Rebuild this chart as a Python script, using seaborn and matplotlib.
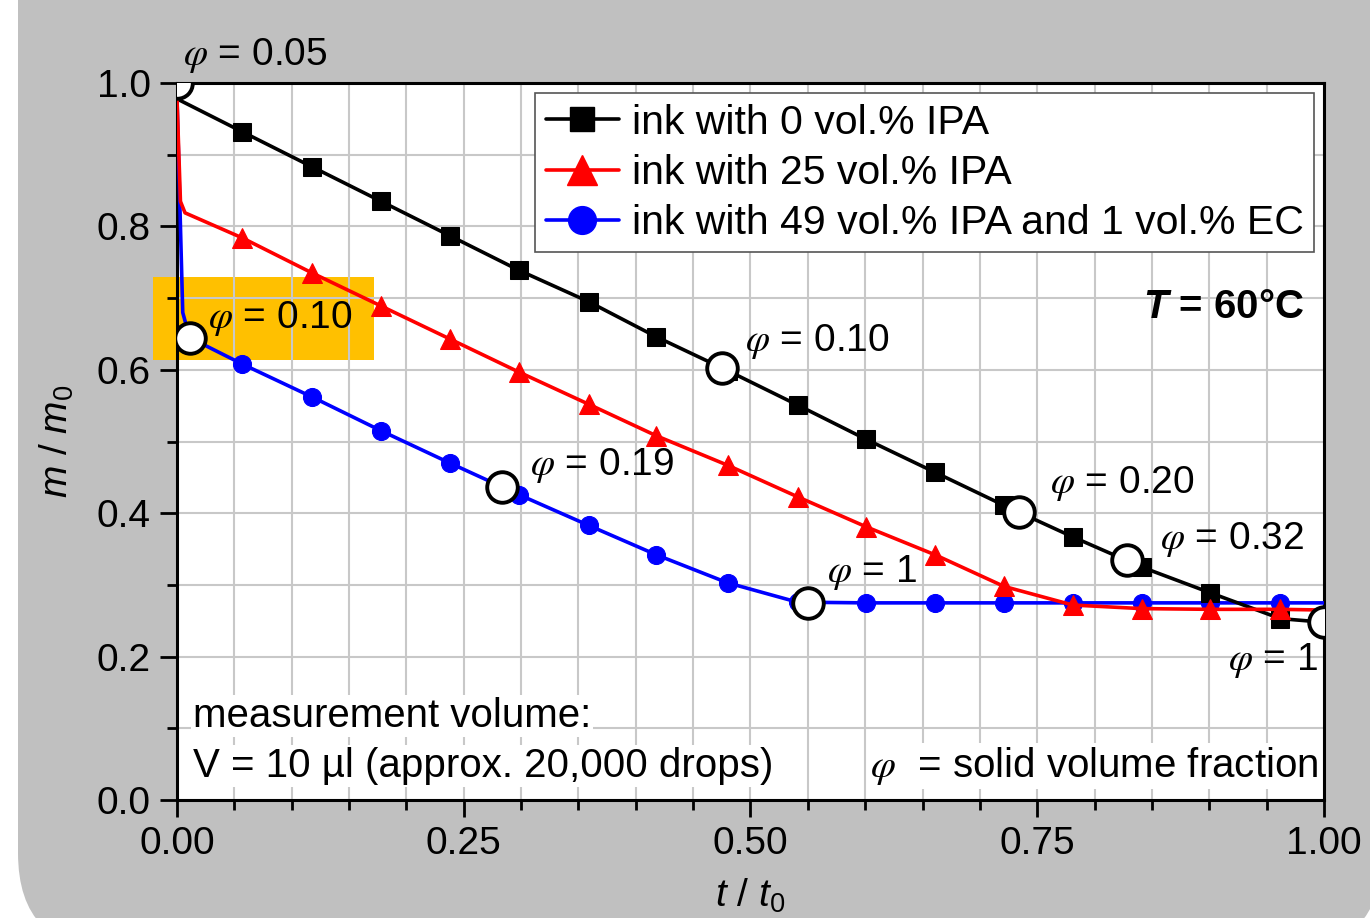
import numpy as np
import pandas as pd
import matplotlib
matplotlib.use('Agg')
import matplotlib.pyplot as plt
import seaborn as sns
from matplotlib.lines import Line2D
from matplotlib.patches import FancyBboxPatch, Rectangle
from matplotlib.ticker import MultipleLocator
from matplotlib.transforms import IdentityTransform

# Data (t/t0, m/m0)
t_black = [0.0, 0.057, 0.118, 0.178, 0.238, 0.298, 0.359, 0.418, 0.480, 0.541,
           0.601, 0.661, 0.721, 0.781, 0.841, 0.901, 0.962, 1.0]
m_black = [0.978, 0.932, 0.883, 0.835, 0.787, 0.739, 0.695, 0.646, 0.599, 0.551,
           0.503, 0.457, 0.411, 0.367, 0.325, 0.289, 0.253, 0.248]

t_red = [0.0, 0.003, 0.007, 0.057, 0.118, 0.178, 0.238, 0.298, 0.359, 0.418, 0.480,
         0.541, 0.601, 0.661, 0.721, 0.781, 0.841, 0.901, 0.962, 1.0]
m_red = [0.978, 0.835, 0.819, 0.784, 0.735, 0.689, 0.643, 0.597, 0.552, 0.508, 0.467,
         0.423, 0.381, 0.342, 0.298, 0.272, 0.267, 0.266, 0.266, 0.265]

t_blue = [0.0, 0.003, 0.005, 0.011, 0.057, 0.118, 0.178, 0.238, 0.298, 0.359, 0.418,
          0.480, 0.541, 0.601, 0.661, 0.721, 0.781, 0.841, 0.901, 0.962, 1.0]
m_blue = [0.978, 0.80, 0.68, 0.645, 0.608, 0.562, 0.515, 0.470, 0.426, 0.383, 0.342,
          0.303, 0.276, 0.275, 0.275, 0.275, 0.275, 0.275, 0.275, 0.275, 0.275]

# open circles marking solid volume fraction
phi_t_black = [0.0, 0.475, 0.734, 0.828, 1.0]
phi_m_black = [1.0, 0.603, 0.402, 0.335, 0.248]
phi_lab_black = ['0.05', '0.10', '0.20', '0.32', '1']
phi_t_blue = [0.011, 0.283, 0.550]
phi_m_blue = [0.644, 0.437, 0.275]
phi_lab_blue = ['0.10', '0.19', '1']

labels = ['ink with 0 vol.% IPA', 'ink with 25 vol.% IPA',
          'ink with 49 vol.% IPA and 1 vol.% EC']

sns.set_theme(style='white')
plt.rcParams['font.family'] = ['Liberation Sans', 'DejaVu Sans']
plt.rcParams['mathtext.fontset'] = 'custom'
plt.rcParams['mathtext.rm'] = 'Liberation Sans'
plt.rcParams['mathtext.it'] = 'Liberation Sans:italic'
plt.rcParams['mathtext.bf'] = 'Liberation Sans:bold'
plt.rcParams['mathtext.bfit'] = 'Liberation Sans:italic:bold'
for k in ['text.color', 'axes.labelcolor', 'xtick.color', 'ytick.color']:
    plt.rcParams[k] = 'black'

fs = 29
lw = 2.6
fig = plt.figure(figsize=(13.7, 9.18), dpi=100, facecolor='white')
bg = FancyBboxPatch((18, -32), 1364, 1100, boxstyle='round,pad=0,rounding_size=97',
                    transform=IdentityTransform(), fc='#c0c0c0', ec='none', zorder=-10)
fig.add_artist(bg)

ax = fig.add_axes([0.1292, 0.1285, 0.8372, 0.7810])
ax.set_facecolor('white')

# highlight box behind the blue phi = 0.10 label
ax.add_patch(Rectangle((-0.0209, 0.614), 0.1927, 0.115, fc='#FFC000', ec='none',
                       zorder=0.3, clip_on=False))

sns.lineplot(x=t_blue, y=m_blue, ax=ax, color='blue', lw=lw, marker='o', markersize=13,
             markeredgecolor='blue', markevery=list(range(4, 20)), sort=False,
             estimator=None, zorder=3)
sns.lineplot(x=t_black, y=m_black, ax=ax, color='black', lw=lw, marker='s', markersize=13,
             markeredgecolor='black', markevery=list(range(1, 17)), sort=False,
             estimator=None, zorder=3.1)
sns.lineplot(x=t_red, y=m_red, ax=ax, color='red', lw=lw, marker='^', markersize=15,
             markeredgecolor='red', markevery=list(range(3, 19)), sort=False,
             estimator=None, zorder=3.2)

ax.plot(phi_t_black + phi_t_blue, phi_m_black + phi_m_blue, ls='none', marker='o',
        ms=22, mfc='white', mec='black', mew=2.8, zorder=4)

# phi labels
lab_pos_black = [(0.005, 1.039, 'left'), (0.495, 0.640, 'left'), (0.761, 0.442, 'left'),
                 (0.857, 0.363, 'left'), (0.995, 0.195, 'right')]
lab_pos_blue = [(0.027, 0.672, 'left'), (0.308, 0.467, 'left'), (0.567, 0.317, 'left')]
for (x, y, ha), s in zip(lab_pos_black + lab_pos_blue, phi_lab_black + phi_lab_blue):
    ax.text(x, y, r'$\varphi$ = ' + s, fontsize=fs - 1, ha=ha, va='center',
            math_fontfamily='stix', zorder=5)

ax.text(0.983, 0.688, r'$\mathbfit{T}$ = 60°C', fontsize=fs, fontweight='bold',
        ha='right', va='center')

box = dict(boxstyle='square,pad=0.05', fc='white', ec='none')
ax.text(0.014, 0.117, 'measurement volume:', fontsize=fs, va='center', bbox=box)
ax.text(0.014, 0.047, 'V = 10 µl (approx. 20,000 drops)', fontsize=fs, va='center', bbox=box)
ax.text(0.995, 0.047, r'$\varphi$  = solid volume fraction', fontsize=fs, ha='right',
        va='center', bbox=box, math_fontfamily='stix')

handles = [Line2D([], [], color='black', lw=lw, marker='s', ms=17),
           Line2D([], [], color='red', lw=lw, marker='^', ms=22),
           Line2D([], [], color='blue', lw=lw, marker='o', ms=20)]
leg = ax.legend(handles, labels, loc='upper right', fontsize=29.5, frameon=True,
                fancybox=False, framealpha=1, edgecolor='#555555', handlelength=1.8,
                handletextpad=0.3, labelspacing=0.3, borderpad=0.25, borderaxespad=0.25)
leg.get_frame().set_linewidth(1.2)

ax.set_xlim(0, 1)
ax.set_ylim(0, 1)
ax.xaxis.set_major_locator(MultipleLocator(0.25))
ax.xaxis.set_minor_locator(MultipleLocator(0.05))
ax.yaxis.set_major_locator(MultipleLocator(0.2))
ax.yaxis.set_minor_locator(MultipleLocator(0.1))
ax.grid(which='both', color='#c8c8c8', lw=1.5)
ax.tick_params(which='major', direction='out', length=12, width=2, color='black',
               labelcolor='black', labelsize=fs - 1, pad=7, bottom=True, left=True)
ax.tick_params(which='minor', direction='out', length=7, width=2, color='black',
               bottom=True, left=True)
for sp in ax.spines.values():
    sp.set_color('black')
    sp.set_linewidth(2.2)

ax.set_xlabel(r'$t$ / $t_0$', fontsize=fs - 1, labelpad=10)
ax.set_ylabel(r'$m$ / $m_0$', fontsize=fs - 1, labelpad=15)

fig.savefig('out.png', dpi=100, facecolor='white')
